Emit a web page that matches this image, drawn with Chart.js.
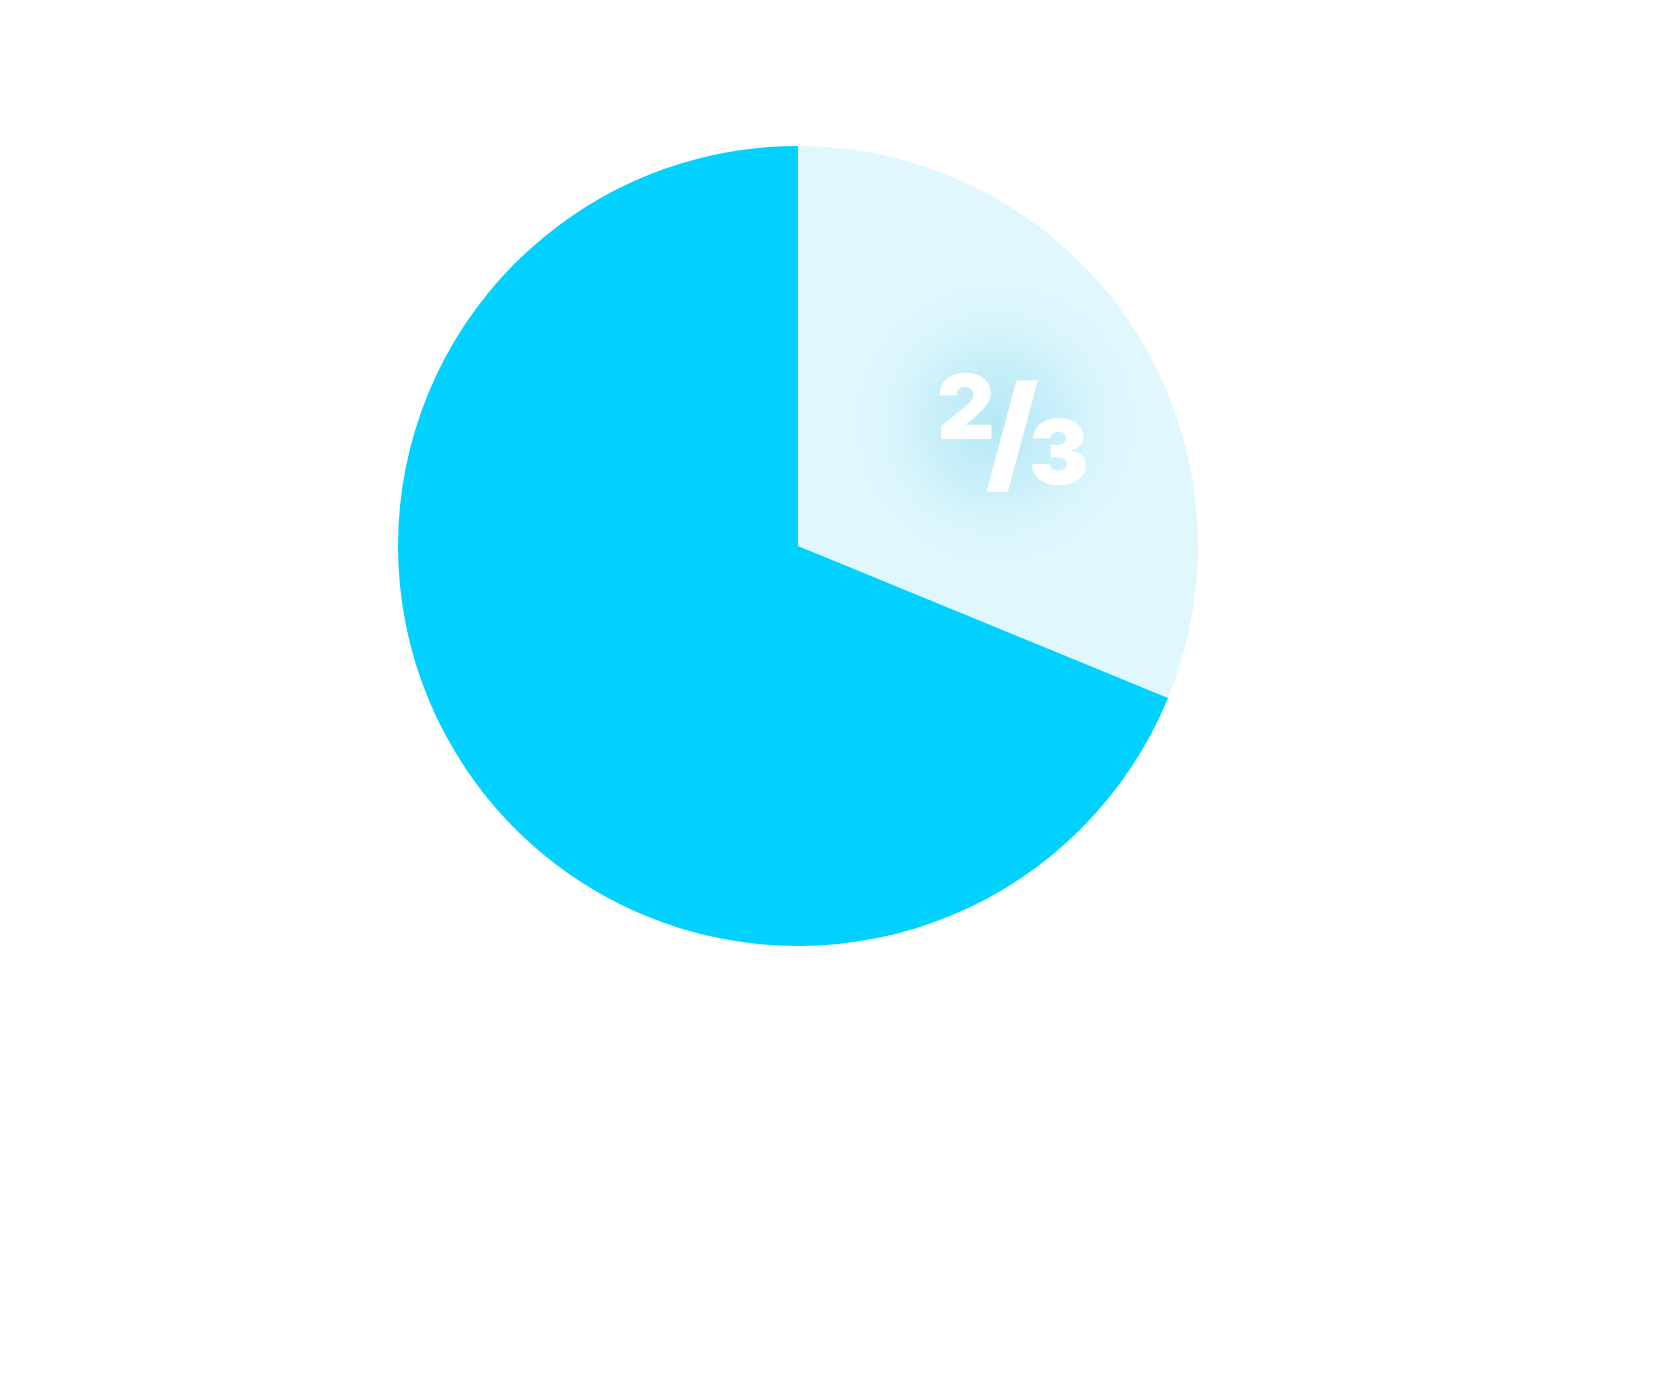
<!DOCTYPE html>
<html><head><meta charset="utf-8">
<script src="https://cdn.jsdelivr.net/npm/chart.js"></script>
<style>html,body{margin:0;padding:0;background:#fff}#wrap{width:1656px;height:1392px}</style>
</head><body><div id="wrap"><canvas id="c"></canvas></div>
<script>
const labels = ["Part", "Rest"];
const values = [31.2, 68.8];
const colors = ["#dff7fd", "#00d1ff"];
const labelText = ["2", "/", "3"];

const fractionLabel = {
  id: 'fractionLabel',
  afterDatasetsDraw(chart) {
    const ctx = chart.ctx;
    const arc = chart.getDatasetMeta(0).data[0];
    const mid = (arc.startAngle + arc.endAngle) / 2;
    const cx = arc.x + Math.cos(mid) * arc.outerRadius * 0.55 + 15;
    const cy = arc.y + Math.sin(mid) * arc.outerRadius * 0.55;
    ctx.save();
    const g = ctx.createRadialGradient(cx, cy, 0, cx, cy, 150);
    g.addColorStop(0, 'rgba(170,228,242,0.8)');
    g.addColorStop(0.45, 'rgba(185,234,246,0.55)');
    g.addColorStop(1, 'rgba(223,247,253,0)');
    ctx.fillStyle = g;
    ctx.beginPath(); ctx.arc(cx, cy, 150, 0, Math.PI * 2); ctx.fill();
    ctx.fillStyle = '#fff';
    ctx.textBaseline = 'alphabetic';
    ctx.textAlign = 'left';
    ctx.font = '900 90px Inter, "DejaVu Sans", sans-serif';
    ctx.fillText(labelText[0], cx - 59, cy + 16);
    ctx.font = '900 128px Inter, "DejaVu Sans", sans-serif';
    ctx.fillText(labelText[1], cx - 10, cy + 55);
    ctx.font = '900 90px Inter, "DejaVu Sans", sans-serif';
    ctx.fillText(labelText[2], cx + 33, cy + 61);
    ctx.restore();
  }
};

new Chart(document.getElementById('c'), {
  type: 'pie',
  data: { labels, datasets: [{ data: values, backgroundColor: colors, borderWidth: 0 }] },
  options: {
    responsive: true, maintainAspectRatio: false, animation: false,
    rotation: 0,
    layout: { padding: { left: 398, right: 458, top: 146, bottom: 446 } },
    plugins: { legend: { display: false }, tooltip: { enabled: false } }
  },
  plugins: [fractionLabel]
});
</script></body></html>
